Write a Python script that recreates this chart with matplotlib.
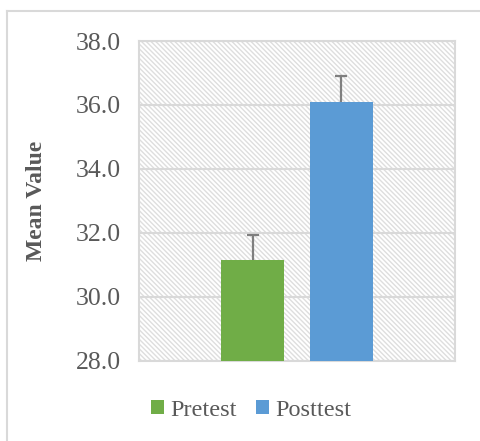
import matplotlib.pyplot as plt
from matplotlib.patches import Patch, Rectangle
from matplotlib.lines import Line2D

groups = ['Pretest', 'Posttest']
means = [31.13, 36.08]
errs = [0.80, 0.83]
colors = ['#70ad47', '#5b9bd5']
yticks = [28.0, 30.0, 32.0, 34.0, 36.0, 38.0]

plt.rcParams['font.family'] = ['Liberation Serif', 'DejaVu Serif']
plt.rcParams['hatch.linewidth'] = 1.0
grey = '#d9d9d9'
text_col = '#595959'

fig = plt.figure(figsize=(4.8, 4.41), dpi=100)
ax = fig.add_axes([139 / 480, 1 - 360.5 / 441, 316 / 480, 319.5 / 441])

# hatched plot area background
ax.add_patch(Rectangle((0, 0), 1, 1, transform=ax.transAxes, facecolor='white',
                       edgecolor='#dedede', hatch='\\' * 7, lw=0, zorder=0))

offsets = [-0.14, 0.14]
for off, m, e, c in zip(offsets, means, errs, colors):
    ax.bar(off, m - yticks[0], bottom=yticks[0], width=0.2, color=c, zorder=3)
    eb = ax.errorbar(off, m, yerr=[[0], [e]], fmt='none', ecolor='#7f7f7f',
                     elinewidth=1.6, capsize=4.5, capthick=1.6, zorder=4)
    eb[1][0].set_visible(False)  # only the plus side has a cap

ax.set_xlim(-0.5, 0.5)
ax.set_ylim(yticks[0], yticks[-1])
ax.set_yticks(yticks)
ax.set_yticklabels(['%.1f' % t for t in yticks])
ax.set_xticks([])
ax.yaxis.grid(True, color=grey, lw=1.5, zorder=1)
ax.set_axisbelow(True)
for s in ax.spines.values():
    s.set_color(grey)
    s.set_linewidth(1.5)
ax.tick_params(axis='y', length=0, pad=13, labelsize=18.5, labelcolor=text_col)
ax.set_ylabel('Mean Value', fontsize=17, fontweight='bold', color=text_col)
ax.yaxis.set_label_coords(-0.29, 0.5)

handles = [Patch(facecolor=c, edgecolor='none') for c in colors]
fig.legend(handles, groups, loc='center', bbox_to_anchor=(251 / 480, 1 - 410 / 441),
           ncol=2, frameon=False, prop={'family': 'Liberation Serif', 'size': 17.5},
           handlelength=0.55, handleheight=0.55, handletextpad=0.25,
           columnspacing=0.8, labelcolor=text_col)

# outer chart frame (left and top edges visible)
fig.add_artist(Line2D([7 / 480, 7 / 480], [0, 1 - 11 / 441], color=grey, lw=1.5,
                      transform=fig.transFigure))
fig.add_artist(Line2D([7 / 480, 1], [1 - 11 / 441, 1 - 11 / 441], color=grey, lw=1.5,
                      transform=fig.transFigure))

fig.savefig('out.png', dpi=100)
